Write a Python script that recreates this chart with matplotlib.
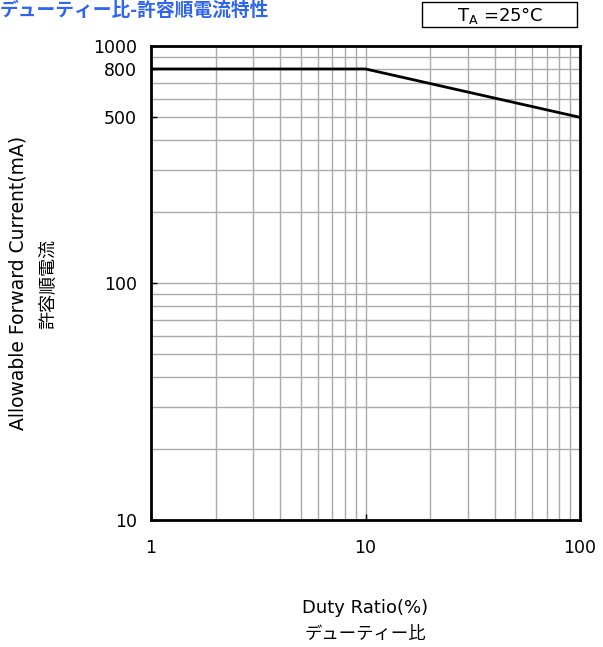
import matplotlib
matplotlib.use("Agg")
import matplotlib.pyplot as plt
from matplotlib.patches import Rectangle
from matplotlib.ticker import LogLocator, FixedLocator, NullFormatter

plt.rcParams['font.family'] = ['DejaVu Sans', 'Noto Sans CJK JP']
JP = ['Noto Sans CJK JP', 'DejaVu Sans']
EN = ['DejaVu Sans']

duty = [1, 10, 100]
current = [800, 800, 500]
xticks = [1, 10, 100]
xticklabels = ['1', '10', '100']
yticks = [10, 100, 500, 800, 1000]
yticklabels = ['10', '100', '500', '800', '1000']

fig = plt.figure(figsize=(6.03, 6.47), dpi=100)
ax = fig.add_axes([151/603, 1-520/647, 429/603, 474/647])
ax.set_xscale('log')
ax.set_yscale('log')
ax.set_xlim(1, 100)
ax.set_ylim(10, 1000)

ax.plot(duty, current, color='black', lw=2, zorder=3)

ax.xaxis.set_major_locator(FixedLocator(xticks))
ax.set_xticklabels(xticklabels, family=EN)
ax.xaxis.set_minor_locator(LogLocator(base=10, subs=range(2, 10)))
ax.xaxis.set_minor_formatter(NullFormatter())
ax.yaxis.set_major_locator(FixedLocator(yticks))
ax.set_yticklabels(yticklabels, family=EN)
ax.yaxis.set_minor_locator(LogLocator(base=10, subs=range(2, 10)))
ax.yaxis.set_minor_formatter(NullFormatter())

ax.grid(True, which='both', color='#aaaaaa', lw=1.0, zorder=1)
ax.tick_params(which='major', direction='in', length=4, width=1, labelsize=12.5, pad=10, colors='black')
ax.tick_params(axis='x', which='major', pad=14)
ax.tick_params(which='minor', length=0)
for s in ax.spines.values():
    s.set_linewidth(2)
    s.set_color('black')

fig.text(18/603, 1-283/647, 'Allowable Forward Current(mA)', rotation=90,
         ha='center', va='center', fontsize=13.5, family=EN)
fig.text(48/603, 1-284/647, '許容順電流', rotation=90, ha='center', va='center',
         fontsize=13, family=JP)
fig.text(365/603, 1-608/647, 'Duty Ratio(%)', ha='center', va='center', fontsize=13, family=EN)
fig.text(365/603, 1-634/647, 'デューティー比', ha='center', va='center', fontsize=12.5, family=JP)

fig.text(0/603, 1-1/647, 'デューティー比-許容順電流特性', ha='left', va='top',
         fontsize=13.5, fontweight='bold', color='#2f64f0', family=JP)

fig.patches.append(Rectangle((422/603, 1-27/647), 155/603, 25/647, transform=fig.transFigure,
                             fill=False, edgecolor='black', lw=1))
fig.text(500/603, 1-15/647, r'T$_\mathregular{A}$ =25°C', ha='center', va='center', fontsize=13, family=EN)

fig.savefig('out.png', dpi=100)
